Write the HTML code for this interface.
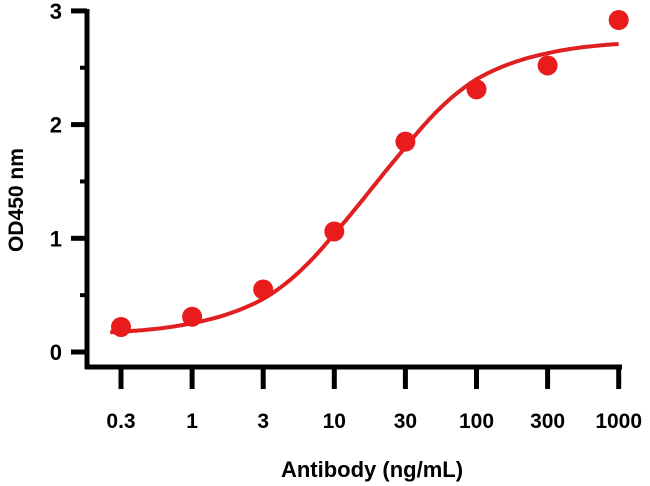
<!DOCTYPE html>
<html><head><meta charset="utf-8"><style>
body{margin:0;background:#fff;}
svg{display:block;font-family:"Liberation Sans",Arial,sans-serif;font-weight:bold;}
</style></head><body>
<svg id="chart" width="650" height="486" viewBox="0 0 650 486"></svg>
<script>
const categories = ["0.3","1","3","10","30","100","300","1000"];
const concentrations = [0.3,1,3,10,30,100,300,1000];
const odValues = [0.22,0.31,0.55,1.06,1.85,2.31,2.52,2.92];
const yTicks = [0,1,2,3];
const fitBottom = 0.15, fitTop = 2.74, fitEC50 = 18, fitHill = 1.1;

const NS="http://www.w3.org/2000/svg";
const svg=document.getElementById('chart');
const X0=121, XSTEP=71.1;
function xLog(c){
  const L=Math.log10(c), n=concentrations.length;
  let i=0;
  if(L<=Math.log10(concentrations[0])) i=0;
  else { while(i<n-2 && L>Math.log10(concentrations[i+1])) i++; }
  const a=Math.log10(concentrations[i]), b=Math.log10(concentrations[i+1]);
  return X0 + (i + (L-a)/(b-a))*XSTEP;
}
function xCat(i){return X0 + i*XSTEP;}
function y(v){return 352 - v*113.7;}
function mk(tag,attrs){const e=document.createElementNS(NS,tag);for(const k in attrs)e.setAttribute(k,attrs[k]);svg.appendChild(e);return e;}

let ya=mk('line',{x1:87,y1:9,x2:87,y2:369,stroke:'#000','stroke-width':5});


let xa=mk('line',{x1:85,y1:367,x2:622,y2:367,stroke:'#000','stroke-width':5});



yTicks.forEach(v=>{
  let t=mk('line',{x1:71,y1:y(v),x2:87,y2:y(v),stroke:'#000','stroke-width':5});
  
  
  let l=mk('text',{x:62,y:y(v)+8,'text-anchor':'end','font-size':22});
  l.textContent=v;
  
  
  if(v<3){
    let m=mk('line',{x1:80,y1:y(v+0.5),x2:87,y2:y(v+0.5),stroke:'#000','stroke-width':4});
    
    
  }
});
categories.forEach((c,i)=>{
  let t=mk('line',{x1:xCat(i),y1:367,x2:xCat(i),y2:389,stroke:'#000','stroke-width':5});
  
  
  let l=mk('text',{x:xCat(i),y:428,'text-anchor':'middle','font-size':21});
  l.textContent=c;
  
  
});
let yt=mk('text',{x:0,y:0,'text-anchor':'middle','font-size':21,transform:'translate(23,200) rotate(-90)'});
yt.textContent='OD450 nm';


let xt=mk('text',{x:372,y:477,'text-anchor':'middle','font-size':22});
xt.textContent='Antibody (ng/mL)';



let d='';
const lo=Math.log10(0.25), hi=Math.log10(1000);
for(let k=0;k<=300;k++){
  const c=Math.pow(10,lo+k/300*(hi-lo));
  const v=fitBottom+(fitTop-fitBottom)/(1+Math.pow(fitEC50/c,fitHill));
  d+=(k?'L':'M')+xLog(c).toFixed(1)+','+y(v).toFixed(1);
}
let cv=mk('path',{d:d,fill:'none',stroke:'#e02020','stroke-width':4});



odValues.forEach((v,i)=>{
  let p=mk('circle',{cx:xCat(i),cy:y(v),r:10,fill:'#e81c1c'});
  
  
});
</script>
</body></html>
